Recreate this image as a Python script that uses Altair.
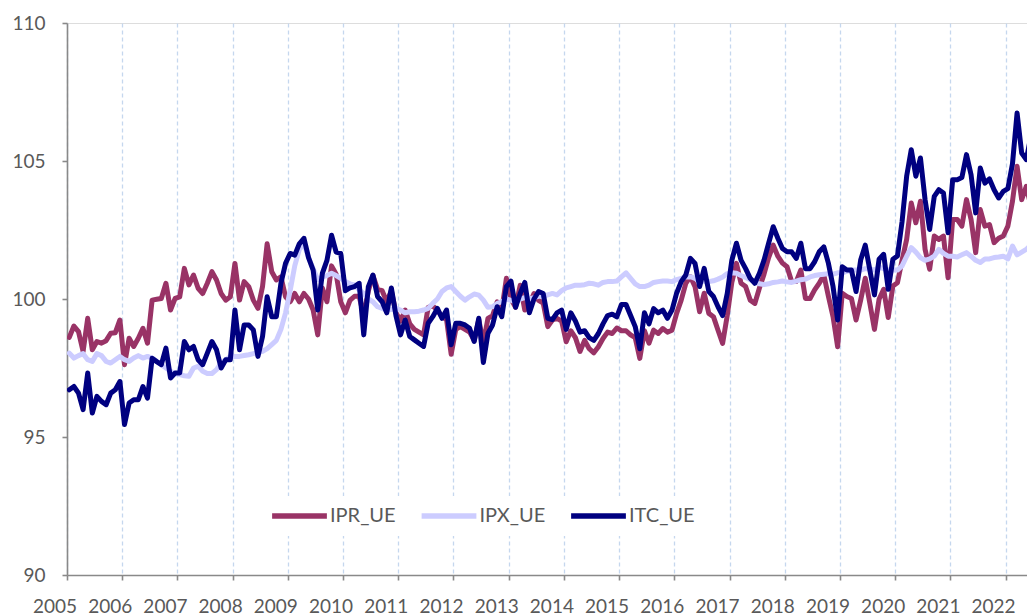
import altair as alt
import pandas as pd

years = list(range(2005, 2023))
series_names = ["IPR_UE", "IPX_UE", "ITC_UE"]
series_colors = ["#993366", "#CCCCFF", "#000080"]
y_ticks = [90, 95, 100, 105, 110]

# monthly values, Jan 2005 .. Aug 2022
ipr = [
    98.61, 99.02, 98.82, 98.10, 99.30, 98.16, 98.46, 98.40, 98.49, 98.76, 98.78, 99.24,
    97.62, 98.58, 98.28, 98.58, 98.94, 98.40, 99.96, 99.99, 100.02, 100.57, 99.60, 100.02,
    100.08, 101.11, 100.51, 100.87, 100.39, 100.20, 100.57, 100.99, 100.69, 100.20, 99.96, 100.08,
    101.29, 99.96, 100.63, 100.45, 99.96, 99.66, 100.45, 102.00, 100.99, 100.69, 100.80, 100.08,
    99.90, 100.20, 99.90, 100.20, 100.00, 99.60, 98.70, 100.40, 99.90, 101.20, 100.90, 99.90,
    99.50, 99.95, 100.10, 100.10, 99.40, 100.30, 100.85, 100.35, 100.30, 99.90, 100.30, 99.50,
    99.20, 99.60, 99.10, 98.90, 98.80, 98.70, 99.70, 99.75, 99.60, 99.35, 99.25, 98.00,
    98.90, 99.00, 98.90, 98.80, 98.50, 99.25, 98.40, 99.30, 99.40, 99.90, 99.60, 100.75,
    100.00, 99.70, 100.50, 99.60, 99.80, 100.20, 99.95, 99.85, 99.00, 99.24, 99.30, 99.20,
    98.45, 98.85, 98.60, 98.10, 98.50, 98.20, 98.05, 98.27, 98.57, 98.80, 98.75, 98.95,
    98.85, 98.85, 98.70, 98.60, 97.85, 98.85, 98.40, 98.87, 98.75, 98.93, 98.80, 98.87,
    99.48, 99.96, 100.57, 100.81, 100.45, 99.54, 100.21, 99.48, 99.36, 98.87, 98.39, 99.40,
    100.60, 101.29, 100.57, 100.45, 99.96, 99.84, 100.40, 100.90, 101.50, 101.95, 101.55, 101.30,
    101.17, 100.63, 100.63, 101.05, 100.02, 100.02, 100.33, 100.57, 100.87, 100.09, 99.36, 98.27,
    100.21, 100.09, 100.02, 99.24, 99.96, 100.75, 99.84, 98.90, 99.99, 100.35, 99.33, 100.47,
    100.59, 101.40, 102.16, 103.48, 102.76, 103.54, 101.80, 101.08, 102.28, 102.16, 102.28, 100.77,
    102.88, 102.88, 102.64, 103.60, 102.88, 101.68, 103.24, 102.64, 102.70, 102.04, 102.20, 102.28,
    102.64, 103.54, 104.81, 103.60, 104.08, 103.36, 101.56, 101.30,
]
ipx = [
    98.04, 97.86, 97.95, 98.02, 97.80, 97.74, 98.02, 97.95, 97.74, 97.68, 97.80, 97.92,
    97.80, 97.74, 97.86, 97.95, 97.86, 97.92, 97.86, 97.74, 97.62, 97.50, 97.38, 97.30,
    97.26, 97.22, 97.20, 97.50, 97.56, 97.38, 97.30, 97.30, 97.44, 97.68, 97.80, 97.92,
    97.92, 97.92, 97.95, 97.98, 98.02, 98.06, 98.10, 98.20, 98.35, 98.50, 98.90, 99.50,
    100.30, 101.20, 101.80, 102.00, 101.50, 101.10, 100.70, 100.80, 100.85, 100.93, 100.85, 100.75,
    100.63, 100.55, 100.51, 100.33, 100.20, 100.00, 99.90, 99.72, 99.66, 99.60, 99.62, 99.66,
    99.60, 99.50, 99.54, 99.54, 99.56, 99.60, 99.66, 99.84, 100.00, 100.27, 100.40, 100.45,
    100.27, 100.10, 99.96, 100.08, 100.18, 100.14, 99.96, 99.70, 99.72, 99.84, 99.90, 100.00,
    99.95, 99.90, 100.00, 100.05, 100.00, 100.05, 100.10, 100.10, 100.15, 100.20, 100.15, 100.30,
    100.40, 100.45, 100.50, 100.50, 100.52, 100.57, 100.55, 100.50, 100.60, 100.63, 100.63, 100.65,
    100.80, 100.95, 100.75, 100.55, 100.45, 100.45, 100.50, 100.60, 100.63, 100.65, 100.65, 100.63,
    100.70, 100.75, 100.80, 100.81, 100.75, 100.65, 100.63, 100.63, 100.66, 100.72, 100.80, 100.92,
    100.95, 100.93, 100.85, 100.78, 100.70, 100.62, 100.55, 100.52, 100.55, 100.60, 100.62, 100.65,
    100.62, 100.60, 100.65, 100.70, 100.72, 100.80, 100.85, 100.88, 100.90, 100.92, 100.90, 100.95,
    100.95, 101.00, 101.05, 101.05, 101.05, 101.10, 101.08, 101.05, 101.15, 101.10, 101.05, 101.05,
    101.05, 101.20, 101.55, 101.86, 101.70, 101.50, 101.40, 101.45, 101.55, 101.80, 101.65, 101.55,
    101.55, 101.52, 101.60, 101.68, 101.55, 101.40, 101.32, 101.45, 101.45, 101.50, 101.52, 101.55,
    101.45, 101.92, 101.60, 101.70, 101.80, 101.95, 102.00, 102.05,
]
itc = [
    96.71, 96.83, 96.59, 95.99, 97.32, 95.87, 96.47, 96.29, 96.17, 96.59, 96.71, 97.01,
    95.45, 96.23, 96.35, 96.35, 96.83, 96.41, 97.85, 97.73, 97.62, 98.22, 97.14, 97.32,
    97.32, 98.46, 98.16, 98.28, 97.80, 97.62, 98.04, 98.46, 98.16, 97.50, 97.80, 97.80,
    99.60, 98.16, 99.06, 99.06, 98.88, 97.92, 98.64, 100.08, 99.36, 99.36, 100.57, 101.29,
    101.65, 101.59, 102.00, 102.20, 101.50, 101.05, 99.60, 100.93, 101.40, 102.31, 101.70, 101.65,
    100.30, 100.40, 100.45, 100.57, 98.70, 100.45, 100.87, 100.09, 99.90, 99.50, 100.40, 99.40,
    98.70, 99.24, 98.64, 98.52, 98.40, 98.28, 99.12, 99.36, 99.66, 99.30, 99.60, 98.34,
    99.12, 99.12, 99.06, 98.94, 98.46, 99.30, 97.70, 98.76, 99.06, 99.72, 99.36, 100.45,
    100.65, 99.70, 100.20, 100.60, 99.50, 100.00, 100.27, 100.20, 99.30, 99.25, 99.50, 99.60,
    98.90, 99.50, 99.20, 98.80, 98.85, 98.60, 98.50, 98.75, 99.10, 99.40, 99.45, 99.35,
    99.80, 99.80, 99.40, 99.00, 98.20, 99.50, 99.10, 99.65, 99.50, 99.60, 99.30, 99.60,
    100.21, 100.63, 100.87, 101.47, 101.29, 100.45, 101.11, 100.27, 100.09, 99.72, 99.40, 100.20,
    101.40, 102.02, 101.41, 101.10, 100.75, 100.57, 100.93, 101.41, 102.02, 102.62, 102.20, 101.83,
    101.71, 101.71, 101.47, 102.02, 101.10, 101.10, 101.35, 101.71, 101.89, 101.29, 100.45, 99.24,
    101.17, 101.05, 101.05, 100.27, 101.41, 101.95, 101.05, 100.15, 101.44, 101.62, 100.35, 101.44,
    101.56, 102.80, 104.45, 105.41, 104.45, 105.11, 103.60, 102.52, 103.72, 103.96, 103.84, 102.40,
    104.32, 104.32, 104.40, 105.23, 104.50, 103.12, 104.75, 104.20, 104.35, 103.96, 103.66, 103.90,
    104.00, 104.90, 106.74, 105.29, 105.05, 105.90, 103.60, 103.20,
]

rows = []
for name, vals in zip(series_names, [ipr, ipx, itc]):
    for i, v in enumerate(vals):
        rows.append({"t": 2005 + (i + 0.5) / 12, "v": v, "s": name})
df = pd.DataFrame(rows)

FONT = "Lato"
TXT = "#595959"
AX = "#898989"

x_enc = alt.X(
    "t:Q",
    scale=alt.Scale(domain=[2005, 2022.388], nice=False, zero=False),
    axis=alt.Axis(
        values=years, format="d", title=None,
        grid=True, gridColor="#C5D7EE", gridDash=[4, 3], gridWidth=1.3,
        domainColor=AX, domainWidth=1.6, tickColor=AX, tickWidth=1.6, tickSize=5,
        labelFont=FONT, labelFontSize=19, labelColor=TXT, labelPadding=17,
        labelOffset=-12.5, labelOverlap=False, labelFlush=False,
    ),
)
y_enc = alt.Y(
    "v:Q",
    scale=alt.Scale(domain=[90, 110], nice=False, zero=False),
    axis=alt.Axis(
        values=y_ticks, title=None, grid=False,
        domainColor=AX, domainWidth=1.6, tickColor=AX, tickWidth=1.6, tickSize=5,
        labelFont=FONT, labelFontSize=19, labelColor=TXT, labelPadding=17,
    ),
)
color_enc = alt.Color(
    "s:N",
    scale=alt.Scale(domain=series_names, range=series_colors),
    legend=alt.Legend(
        title=None, orient="none", direction="horizontal",
        legendX=194, legendY=473,
        symbolType="stroke", symbolSize=3000, symbolStrokeWidth=5.5,
        clipHeight=24, gridAlign="all",
        labelFont=FONT, labelFontSize=20, labelColor=TXT, labelOffset=0,
        columnPadding=22.5, fillColor="white", padding=8,
    ),
)

base = alt.Chart(df).encode(x=x_enc, y=y_enc, color=color_enc)
layers = [
    base.transform_filter(alt.datum.s == name).mark_line(
        strokeWidth=5, strokeJoin="round", strokeCap="round", clip=True
    )
    for name in series_names
]

chart = alt.layer(*layers).properties(
    width=960, height=552,
    autosize=alt.AutoSizeParams(type="none"),
    padding={"left": 59, "top": 15, "right": 0, "bottom": 41},
).configure_view(stroke=None).configure(background="white")

chart.save("out.html", embed_options={"renderer": "svg", "actions": False})
